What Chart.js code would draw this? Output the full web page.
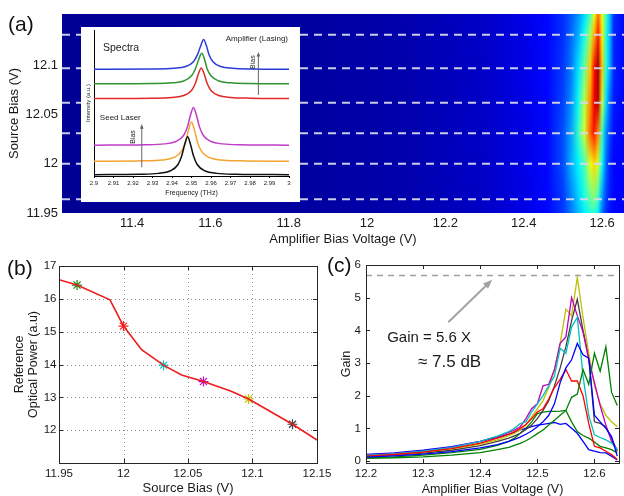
<!doctype html>
<html>
<head>
<title>Amplifier gain</title>
<script src="https://cdn.jsdelivr.net/npm/chart.js"></script>
<style>
  body { margin: 0; background: #fff; }
  #page { position: relative; width: 624px; height: 496px; overflow: hidden; font-family: 'Liberation Sans', Arial, sans-serif; }
  canvas { position: absolute; }
  .tag { position: absolute; font-size: 21px; line-height: 21px; color: #111; }
</style>
</head>
<body>
<div id="page">
  <canvas id="heatmap" width="624" height="250" style="left:0;top:0"></canvas>
  <canvas id="spectra" width="219" height="175" style="left:81px;top:27px;background:#fff"></canvas>
  <canvas id="power" width="340" height="246" style="left:0;top:250px"></canvas>
  <canvas id="gain" width="304" height="246" style="left:320px;top:250px"></canvas>
  <div class="tag" style="left:8px;top:13px">(a)</div>
  <div class="tag" style="left:7px;top:257px">(b)</div>
  <div class="tag" style="left:327px;top:254px">(c)</div>
</div>

<script>
// ---------- (a) map of amplifier output, source bias vs amplifier bias ----------
const ampBias = [11.221, 11.8, 12.1, 12.3, 12.4, 12.46, 12.5, 12.52, 12.54, 12.555, 12.57, 12.58, 12.59, 12.6, 12.61, 12.62, 12.63, 12.656];
const heatRows = [11.95, 11.964, 12.0, 12.032, 12.062, 12.097, 12.132, 12.152];
const heat = [
    [0.02, 0.03, 0.045, 0.07, 0.1, 0.13, 0.18, 0.24, 0.31, 0.36, 0.41, 0.42, 0.36, 0.24, 0.17, 0.14, 0.13, 0.12],
    [0.02, 0.03, 0.045, 0.07, 0.1, 0.13, 0.18, 0.25, 0.33, 0.4, 0.47, 0.5, 0.42, 0.27, 0.19, 0.15, 0.13, 0.12],
    [0.02, 0.03, 0.045, 0.07, 0.1, 0.13, 0.2, 0.29, 0.37, 0.45, 0.6, 0.66, 0.58, 0.38, 0.23, 0.16, 0.13, 0.12],
    [0.02, 0.03, 0.045, 0.07, 0.1, 0.13, 0.2, 0.28, 0.43, 0.58, 0.78, 0.86, 0.74, 0.44, 0.27, 0.19, 0.14, 0.12],
    [0.02, 0.03, 0.045, 0.07, 0.1, 0.13, 0.19, 0.26, 0.39, 0.56, 0.74, 0.89, 0.95, 0.58, 0.34, 0.22, 0.15, 0.12],
    [0.02, 0.03, 0.045, 0.07, 0.1, 0.13, 0.18, 0.24, 0.35, 0.48, 0.68, 0.86, 0.97, 0.68, 0.41, 0.29, 0.16, 0.13],
    [0.02, 0.03, 0.045, 0.07, 0.1, 0.13, 0.17, 0.22, 0.3, 0.39, 0.54, 0.7, 0.85, 0.64, 0.41, 0.3, 0.16, 0.13],
    [0.02, 0.03, 0.045, 0.07, 0.1, 0.13, 0.17, 0.21, 0.27, 0.34, 0.44, 0.6, 0.76, 0.6, 0.44, 0.31, 0.17, 0.13]
];
const ampTicks = [11.4, 11.6, 11.8, 12, 12.2, 12.4, 12.6];
const srcTicksA = [11.95, 12, 12.05, 12.1];

// source bias settings (dashed lines in (a), markers in (b))
const srcBias = [11.964, 12.0, 12.031, 12.062, 12.097, 12.131];

// ---------- inset spectra ----------
const blackFreq = [2.9, 2.923, 2.933, 2.939, 2.943, 2.945, 2.9465, 2.948, 2.9495, 2.951, 2.953, 2.957, 2.963, 2.973, 3.0];
const blackInt = [0.9, 1.2, 1.8, 3.4, 7.7, 13.8, 21.6, 26.8, 21.6, 13.8, 7.7, 3.4, 1.8, 1.2, 0.9];
const orangeFreq = [2.9, 2.925, 2.935, 2.941, 2.945, 2.947, 2.9485, 2.95, 2.9515, 2.953, 2.955, 2.959, 2.965, 2.975, 3.0];
const orangeInt = [10.1, 10.4, 11.0, 12.7, 17.2, 23.5, 31.6, 37, 31.6, 23.5, 17.2, 12.7, 11.0, 10.4, 10.1];
const magentaFreq = [2.9, 2.926, 2.936, 2.942, 2.946, 2.948, 2.9495, 2.951, 2.9525, 2.954, 2.956, 2.96, 2.966, 2.976, 3.0];
const magentaInt = [21.1, 21.4, 22, 23.6, 27.9, 34, 41.8, 47, 41.8, 34, 27.9, 23.6, 22, 21.4, 21.1];
const redFreq = [2.9, 2.93, 2.94, 2.946, 2.95, 2.952, 2.9535, 2.955, 2.9565, 2.958, 2.96, 2.964, 2.97, 2.98, 3.0];
const redInt = [53.1, 53.3, 53.8, 55.1, 58.6, 63.5, 69.8, 74, 69.8, 63.5, 58.6, 55.1, 53.8, 53.3, 53.1];
const greenFreq = [2.9, 2.93, 2.94, 2.946, 2.95, 2.952, 2.9537, 2.9552, 2.9567, 2.958, 2.96, 2.964, 2.97, 2.98, 3.0];
const greenInt = [63.1, 63.3, 63.8, 65.1, 68.6, 73.5, 79.8, 84, 79.8, 73.5, 68.6, 65.1, 63.8, 63.3, 63.1];
const blueFreq = [2.9, 2.931, 2.941, 2.947, 2.951, 2.953, 2.9547, 2.9562, 2.9577, 2.959, 2.961, 2.965, 2.971, 2.981, 3.0];
const blueInt = [73.1, 73.3, 73.8, 75, 78.3, 83, 89, 93.5, 89, 83, 78.3, 75, 73.8, 73.3, 73.1];
const freqTicks = [2.9, 2.91, 2.92, 2.93, 2.94, 2.95, 2.96, 2.97, 2.98, 2.99, 3];

// ---------- (b) reference optical power ----------
const powerBias = [11.95, 11.964, 11.9895, 12.0, 12.014, 12.031, 12.045, 12.062, 12.083, 12.097, 12.131, 12.15];
const powerVal = [16.58, 16.42, 15.97, 15.17, 14.45, 13.98, 13.68, 13.48, 13.19, 12.95, 12.18, 11.7];
const markerPower = [16.42, 15.17, 13.98, 13.48, 12.95, 12.18];
const srcTicksB = [11.95, 12, 12.05, 12.1, 12.15];
const powerTicks = [12, 13, 14, 15, 16, 17];

// ---------- (c) gain vs amplifier bias ----------
const gainBias = [12.2, 12.25, 12.3, 12.35, 12.4, 12.43, 12.45, 12.46, 12.47, 12.48, 12.49, 12.5, 12.51, 12.52, 12.53, 12.54, 12.55, 12.56, 12.57, 12.58, 12.59, 12.6, 12.61, 12.62, 12.63, 12.64];
const gainBlue1 = [0.12, 0.16, 0.21, 0.29, 0.4, 0.5, 0.6, 0.66, 0.73, 0.82, 0.92, 1.05, 1.2, 1.4, 1.75, 2.4, 2.85, 3.1, 3.6, 3.25, 3.15, 1.4, 1.2, 1.0, 0.75, 0.15];
const gainGreen1 = [0.08, 0.1, 0.13, 0.18, 0.26, 0.35, 0.42, 0.48, 0.54, 0.62, 0.72, 0.84, 0.95, 1.1, 1.25, 1.4, 1.55, 1.95, 2.05, 2.8, 2.35, 3.3, 2.75, 3.5, 2.1, 1.7];
const gainRed = [0.15, 0.2, 0.27, 0.38, 0.55, 0.7, 0.82, 0.9, 1.0, 1.12, 1.3, 1.5, 1.6, 1.9, 2.25, 2.5, 2.8, 2.45, 2.45, 2.0, 1.15, 0.45, 0.4, 0.3, 0.2, 0.05];
const gainCyan = [0.17, 0.22, 0.3, 0.41, 0.6, 0.76, 0.9, 1.0, 1.15, 1.2, 1.5, 1.75, 2.0, 2.3, 2.6, 3.45, 3.3, 4.1, 4.4, 2.6, 1.4, 0.8, 0.72, 0.65, 0.55, 0.35];
const gainMagenta = [0.18, 0.23, 0.3, 0.42, 0.6, 0.75, 0.88, 0.95, 1.05, 1.3, 1.6, 1.75, 2.3, 2.35, 2.8, 3.6, 3.8, 5.0, 4.45, 3.95, 3.1, 2.4, 1.7, 1.1, 0.6, 0.35];
const gainYellow = [0.16, 0.2, 0.27, 0.37, 0.52, 0.65, 0.78, 0.85, 0.95, 1.1, 1.35, 1.6, 1.85, 2.25, 2.8, 3.6, 4.65, 4.45, 5.62, 4.4, 3.3, 2.3, 1.75, 1.4, 1.2, 1.05];
const gainBlack = [0.14, 0.18, 0.24, 0.33, 0.47, 0.6, 0.7, 0.77, 0.85, 0.97, 1.1, 1.3, 1.55, 1.85, 2.3, 2.85, 3.5, 4.3, 4.95, 4.0, 3.2, 1.2, 1.15, 1.05, 0.7, 0.3];
const gainBlue2 = [0.2, 0.25, 0.33, 0.44, 0.6, 0.72, 0.82, 0.88, 0.95, 1.0, 1.05, 1.1, 1.12, 1.15, 1.18, 1.12, 1.15, 1.0, 0.85, 0.6, 0.35, 0.3, 0.26, 0.25, 0.15, 0.03];
const gainGreen2 = [0.1, 0.13, 0.18, 0.26, 0.36, 0.48, 0.6, 0.7, 0.85, 1.0, 1.2, 1.45, 1.5, 1.52, 1.52, 1.53, 1.55, 1.2, 0.9, 0.78, 0.7, 0.58, 0.45, 0.4, 0.35, 0.25];
const gainTicksX = [12.2, 12.3, 12.4, 12.5, 12.6];
const gainTicksY = [0, 1, 2, 3, 4, 5, 6];
const gainPeak = 5.68;


const FONT = "'Liberation Sans', Arial, sans-serif";
Chart.defaults.font.family = FONT;
Chart.defaults.color = '#1a1a1a';
Chart.defaults.animation = false;

function fixedTicks(values) {
    return scale => { scale.ticks = values.map(v => ({ value: v })); };
}
function label(v) { return String(v); }
function pts(xs, ys) { return xs.map((x, i) => ({ x: x, y: ys[i] })); }

// jet colour map
function jet(v) {
    const c = t => Math.round(255 * Math.max(0, Math.min(1, t)));
    return 'rgb(' + c(1.5 - Math.abs(4 * v - 3)) + ',' + c(1.5 - Math.abs(4 * v - 2)) + ',' + c(1.5 - Math.abs(4 * v - 1)) + ')';
}

function drawArrow(ctx, x0, y0, x1, y1, color, width, head) {
    const ang = Math.atan2(y1 - y0, x1 - x0);
    ctx.strokeStyle = color;
    ctx.fillStyle = color;
    ctx.lineWidth = width;
    ctx.beginPath();
    ctx.moveTo(x0, y0);
    ctx.lineTo(x1 - head * 0.8 * Math.cos(ang), y1 - head * 0.8 * Math.sin(ang));
    ctx.stroke();
    ctx.beginPath();
    ctx.moveTo(x1, y1);
    ctx.lineTo(x1 - head * Math.cos(ang - 0.38), y1 - head * Math.sin(ang - 0.38));
    ctx.lineTo(x1 - head * Math.cos(ang + 0.38), y1 - head * Math.sin(ang + 0.38));
    ctx.closePath();
    ctx.fill();
}

// heat map: each row is a horizontal gradient, blended vertically into the next row
const heatPlugin = {
    id: 'heat',
    beforeDatasetsDraw(chart) {
        const { ctx, chartArea: area, scales: { x, y } } = chart;
        const x0 = x.getPixelForValue(ampBias[0]);
        const x1 = x.getPixelForValue(ampBias[ampBias.length - 1]);

        function rowFill(c, r, shift) {
            const g = c.createLinearGradient(x0 - shift, 0, x1 - shift, 0);
            ampBias.forEach((v, i) => g.addColorStop((x.getPixelForValue(v) - x0) / (x1 - x0), jet(heat[r][i])));
            return g;
        }

        const off = document.createElement('canvas');
        off.width = Math.ceil(area.width) + 2;
        off.height = Math.ceil(area.height) + 2;
        const oc = off.getContext('2d');

        ctx.save();
        ctx.beginPath();
        ctx.rect(area.left, area.top, area.width, area.height);
        ctx.clip();
        for (let r = 0; r < heatRows.length - 1; r++) {
            const yb = y.getPixelForValue(heatRows[r]);
            const yt = y.getPixelForValue(heatRows[r + 1]);
            const h = yb - yt;
            ctx.fillStyle = rowFill(ctx, r, 0);
            ctx.fillRect(area.left, yt, area.width, h + 1);

            oc.globalCompositeOperation = 'source-over';
            oc.clearRect(0, 0, off.width, off.height);
            oc.fillStyle = rowFill(oc, r + 1, area.left);
            oc.fillRect(0, 0, area.width, h + 1);
            oc.globalCompositeOperation = 'destination-in';
            const a = oc.createLinearGradient(0, h, 0, 0);
            a.addColorStop(0, 'rgba(0,0,0,0)');
            a.addColorStop(1, 'rgba(0,0,0,1)');
            oc.fillStyle = a;
            oc.fillRect(0, 0, area.width, h + 1);
            ctx.drawImage(off, 0, 0, area.width, h + 1, area.left, yt, area.width, h + 1);
        }
        ctx.restore();
    }
};

// box, inward ticks and optional dotted grid
const framePlugin = {
    id: 'frame',
    beforeDatasetsDraw(chart, args, opts) {
        if (!opts.grid) return;
        const { ctx, chartArea: a, scales: { x, y } } = chart;
        ctx.save();
        ctx.strokeStyle = '#8c8c8c';
        ctx.lineWidth = 1;
        ctx.setLineDash([1, 3]);
        ctx.beginPath();
        x.ticks.forEach(t => {
            const px = Math.round(x.getPixelForValue(t.value)) + 0.5;
            ctx.moveTo(px, a.top); ctx.lineTo(px, a.bottom);
        });
        y.ticks.forEach(t => {
            const py = Math.round(y.getPixelForValue(t.value)) + 0.5;
            ctx.moveTo(a.left, py); ctx.lineTo(a.right, py);
        });
        ctx.stroke();
        ctx.restore();
    },
    afterDatasetsDraw(chart, args, opts) {
        const { ctx, chartArea: a, scales: { x, y } } = chart;
        const len = 4;
        ctx.save();
        ctx.strokeStyle = '#262626';
        ctx.lineWidth = 1;
        ctx.strokeRect(Math.round(a.left) + 0.5, Math.round(a.top) + 0.5, Math.round(a.width), Math.round(a.height));
        ctx.beginPath();
        x.ticks.forEach(t => {
            const px = Math.round(x.getPixelForValue(t.value)) + 0.5;
            ctx.moveTo(px, a.bottom); ctx.lineTo(px, a.bottom - len);
            ctx.moveTo(px, a.top); ctx.lineTo(px, a.top + len);
        });
        y.ticks.forEach(t => {
            const py = Math.round(y.getPixelForValue(t.value)) + 0.5;
            ctx.moveTo(a.left, py); ctx.lineTo(a.left + len, py);
            ctx.moveTo(a.right, py); ctx.lineTo(a.right - len, py);
        });
        ctx.stroke();
        ctx.restore();
    }
};

// notes inside the spectra inset
const spectraNotes = {
    id: 'spectraNotes',
    afterDatasetsDraw(chart) {
        const { ctx, scales: { x, y } } = chart;
        ctx.save();
        ctx.fillStyle = '#222';
        ctx.textBaseline = 'middle';
        ctx.textAlign = 'left';
        ctx.font = '10.5px ' + FONT;
        ctx.fillText('Spectra', x.getPixelForValue(2.9046), y.getPixelForValue(87.7));
        ctx.font = '8px ' + FONT;
        ctx.fillText('Seed Laser', x.getPixelForValue(2.903), y.getPixelForValue(39.7));
        ctx.textAlign = 'right';
        ctx.fillText('Amplifier (Lasing)', x.getPixelForValue(2.9995), y.getPixelForValue(93.8));

        drawArrow(ctx, x.getPixelForValue(2.9843), y.getPixelForValue(55.5), x.getPixelForValue(2.9843), y.getPixelForValue(85), '#666', 1, 5);
        drawArrow(ctx, x.getPixelForValue(2.9245), y.getPixelForValue(6), x.getPixelForValue(2.9245), y.getPixelForValue(35.6), '#666', 1, 5);

        ctx.fillStyle = '#222';
        ctx.font = '7px ' + FONT;
        ctx.textAlign = 'center';
        [[2.9814, 78], [2.9199, 26.7]].forEach(p => {
            ctx.save();
            ctx.translate(x.getPixelForValue(p[0]), y.getPixelForValue(p[1]));
            ctx.rotate(-Math.PI / 2);
            ctx.fillText('Bias', 0, 0);
            ctx.restore();
        });
        ctx.restore();
    }
};

// arrow and text in (c)
const gainNote = {
    id: 'gainNote',
    afterDatasetsDraw(chart) {
        const { ctx, scales: { x, y } } = chart;
        ctx.save();
        drawArrow(ctx, x.getPixelForValue(12.344), y.getPixelForValue(4.25), x.getPixelForValue(12.421), y.getPixelForValue(5.55), '#a3a3a3', 2, 10);
        ctx.fillStyle = '#1a1a1a';
        ctx.textBaseline = 'middle';
        ctx.textAlign = 'left';
        ctx.font = '15px ' + FONT;
        ctx.fillText('Gain = 5.6 X', x.getPixelForValue(12.237), y.getPixelForValue(3.76));
        ctx.font = '17px ' + FONT;
        ctx.fillText('\u2248 7.5 dB', x.getPixelForValue(12.291), y.getPixelForValue(3.02));
        ctx.restore();
    }
};

const quiet = { legend: { display: false }, tooltip: { enabled: false } };

// ---------- (a) ----------
new Chart(document.getElementById('heatmap'), {
    type: 'scatter',
    data: {
        datasets: srcBias.map(v => ({
            data: [{ x: ampBias[0], y: v }, { x: ampBias[ampBias.length - 1], y: v }],
            showLine: true,
            borderColor: 'rgba(214,214,238,0.95)',
            borderWidth: 2,
            borderDash: [8, 6],
            pointRadius: 0
        }))
    },
    options: {
        responsive: false,
        events: [],
        layout: { padding: { top: 14, right: 0, left: 0, bottom: 0 } },
        plugins: quiet,
        scales: {
            x: {
                type: 'linear', min: ampBias[0], max: ampBias[ampBias.length - 1],
                afterBuildTicks: fixedTicks(ampTicks),
                afterFit: s => { s.height = 37; },
                grid: { display: false, drawTicks: false },
                border: { display: false },
                ticks: { padding: 3, font: { size: 13 }, callback: label, maxRotation: 0, autoSkip: false },
                title: { display: true, text: 'Amplifier Bias Voltage (V)', font: { size: 13, lineHeight: 1 }, padding: { top: 0, bottom: 4.5 } }
            },
            y: {
                type: 'linear', min: heatRows[0], max: heatRows[heatRows.length - 1],
                afterBuildTicks: fixedTicks(srcTicksA),
                afterFit: s => { s.width = 62; },
                grid: { display: false, drawTicks: false },
                border: { display: false },
                ticks: { padding: 4, font: { size: 13 }, callback: label, autoSkip: false },
                title: { display: true, text: 'Source Bias (V)', font: { size: 13, lineHeight: 1 }, padding: { top: 7.5, bottom: 0 } }
            }
        }
    },
    plugins: [heatPlugin]
});

// ---------- inset ----------
const traces = [
    [blackFreq, blackInt, '#111111'],
    [orangeFreq, orangeInt, '#f5a431'],
    [magentaFreq, magentaInt, '#c23cc8'],
    [redFreq, redInt, '#e42828'],
    [greenFreq, greenInt, '#2f942f'],
    [blueFreq, blueInt, '#2a3cdc']
];
new Chart(document.getElementById('spectra'), {
    type: 'scatter',
    data: {
        datasets: traces.map(t => ({
            data: pts(t[0], t[1]),
            showLine: true,
            borderColor: t[2],
            borderWidth: 1.5,
            pointRadius: 0,
            cubicInterpolationMode: 'monotone'
        }))
    },
    options: {
        responsive: false,
        events: [],
        layout: { padding: { top: 3, right: 11, left: 0, bottom: 0 } },
        plugins: quiet,
        scales: {
            x: {
                type: 'linear', min: 2.9, max: 3,
                afterBuildTicks: fixedTicks(freqTicks),
                afterFit: s => { s.height = 26; },
                grid: { display: true, drawOnChartArea: false, drawTicks: true, tickLength: 2, tickColor: '#000' },
                border: { display: true, color: '#000', width: 1 },
                ticks: { padding: 1.5, font: { size: 6 }, callback: label, maxRotation: 0, autoSkip: false },
                title: { display: true, text: 'Frequency (THz)', font: { size: 7, lineHeight: 1 }, padding: { top: 0, bottom: 5.5 } }
            },
            y: {
                type: 'linear', min: 0, max: 100,
                afterFit: s => { s.width = 13; },
                grid: { display: false, drawTicks: false },
                border: { display: true, color: '#000', width: 1 },
                ticks: { display: false },
                title: { display: true, text: 'Intensity (a.u.)', font: { size: 6, lineHeight: 1 }, padding: { top: 4, bottom: 0 } }
            }
        }
    },
    plugins: [spectraNotes]
});

// ---------- (b) ----------
new Chart(document.getElementById('power'), {
    type: 'scatter',
    data: {
        datasets: [{
            data: pts(powerBias, powerVal),
            showLine: true,
            borderColor: '#ee1c1c',
            borderWidth: 1.6,
            pointRadius: 0
        }, {
            data: pts(srcBias, markerPower),
            showLine: false,
            pointStyle: 'star',
            pointRadius: 5,
            pointBorderWidth: 1.2,
            pointBorderColor: ['#1f8c1f', '#ff2020', '#10c0c0', '#c010c0', '#c4c400', '#404040']
        }]
    },
    options: {
        responsive: false,
        events: [],
        layout: { padding: { top: 16, right: 23, left: 0, bottom: 0 } },
        plugins: Object.assign({ frame: { grid: true } }, quiet),
        scales: {
            x: {
                type: 'linear', min: 11.95, max: 12.15,
                afterBuildTicks: fixedTicks(srcTicksB),
                afterFit: s => { s.height = 33; },
                grid: { display: false, drawTicks: false },
                border: { display: false },
                ticks: { padding: 3.7, font: { size: 11.5 }, callback: label, maxRotation: 0, autoSkip: false },
                title: { display: true, text: 'Source Bias (V)', font: { size: 13, lineHeight: 1 }, padding: { top: 0, bottom: 1.5 } }
            },
            y: {
                type: 'linear', min: 11, max: 17,
                afterBuildTicks: fixedTicks(powerTicks),
                afterFit: s => { s.width = 59; },
                grid: { display: false, drawTicks: false },
                border: { display: false },
                ticks: { padding: 2.5, font: { size: 11.5 }, callback: label, autoSkip: false },
                title: { display: true, text: ['Reference', 'Optical Power (a.u)'], font: { size: 12.5, lineHeight: 1.12 }, padding: { top: 13, bottom: 0 } }
            }
        }
    },
    plugins: [framePlugin]
});

// ---------- (c) ----------
const gainSeries = [
    [gainBlue1, '#0000ff'],
    [gainGreen1, '#008000'],
    [gainRed, '#ff0000'],
    [gainCyan, '#00bfbf'],
    [gainMagenta, '#bf00bf'],
    [gainYellow, '#bfbf00'],
    [gainBlack, '#404040'],
    [gainBlue2, '#0000ff'],
    [gainGreen2, '#008000']
];
new Chart(document.getElementById('gain'), {
    type: 'scatter',
    data: {
        datasets: [{
            data: [{ x: gainBias[0], y: gainPeak }, { x: 12.643, y: gainPeak }],
            showLine: true,
            borderColor: '#a0a0a0',
            borderWidth: 1.5,
            borderDash: [6, 5],
            pointRadius: 0
        }].concat(gainSeries.map(s => ({
            data: pts(gainBias, s[0]),
            showLine: true,
            borderColor: s[1],
            borderWidth: 1.3,
            pointRadius: 0
        })))
    },
    options: {
        responsive: false,
        events: [],
        layout: { padding: { top: 15, right: 5, left: 0, bottom: 0 } },
        plugins: Object.assign({ frame: { grid: false } }, quiet),
        scales: {
            x: {
                type: 'linear', min: 12.2, max: 12.643,
                afterBuildTicks: fixedTicks(gainTicksX),
                afterFit: s => { s.height = 33; },
                grid: { display: false, drawTicks: false },
                border: { display: false },
                ticks: { padding: 3.7, font: { size: 11.5 }, callback: label, maxRotation: 0, autoSkip: false },
                title: { display: true, text: 'Amplifier Bias Voltage (V)', font: { size: 12.5, lineHeight: 1 }, padding: { top: 0, bottom: 0 } }
            },
            y: {
                type: 'linear', min: -0.06, max: 6,
                afterBuildTicks: fixedTicks(gainTicksY),
                afterFit: s => { s.width = 46; },
                grid: { display: false, drawTicks: false },
                border: { display: false },
                ticks: { padding: 5, font: { size: 11.5 }, callback: label, autoSkip: false },
                title: { display: true, text: 'Gain', font: { size: 12.5, lineHeight: 1 }, padding: { top: 20.5, bottom: 0 } }
            }
        }
    },
    plugins: [framePlugin, gainNote]
});
</script>
</body>
</html>
